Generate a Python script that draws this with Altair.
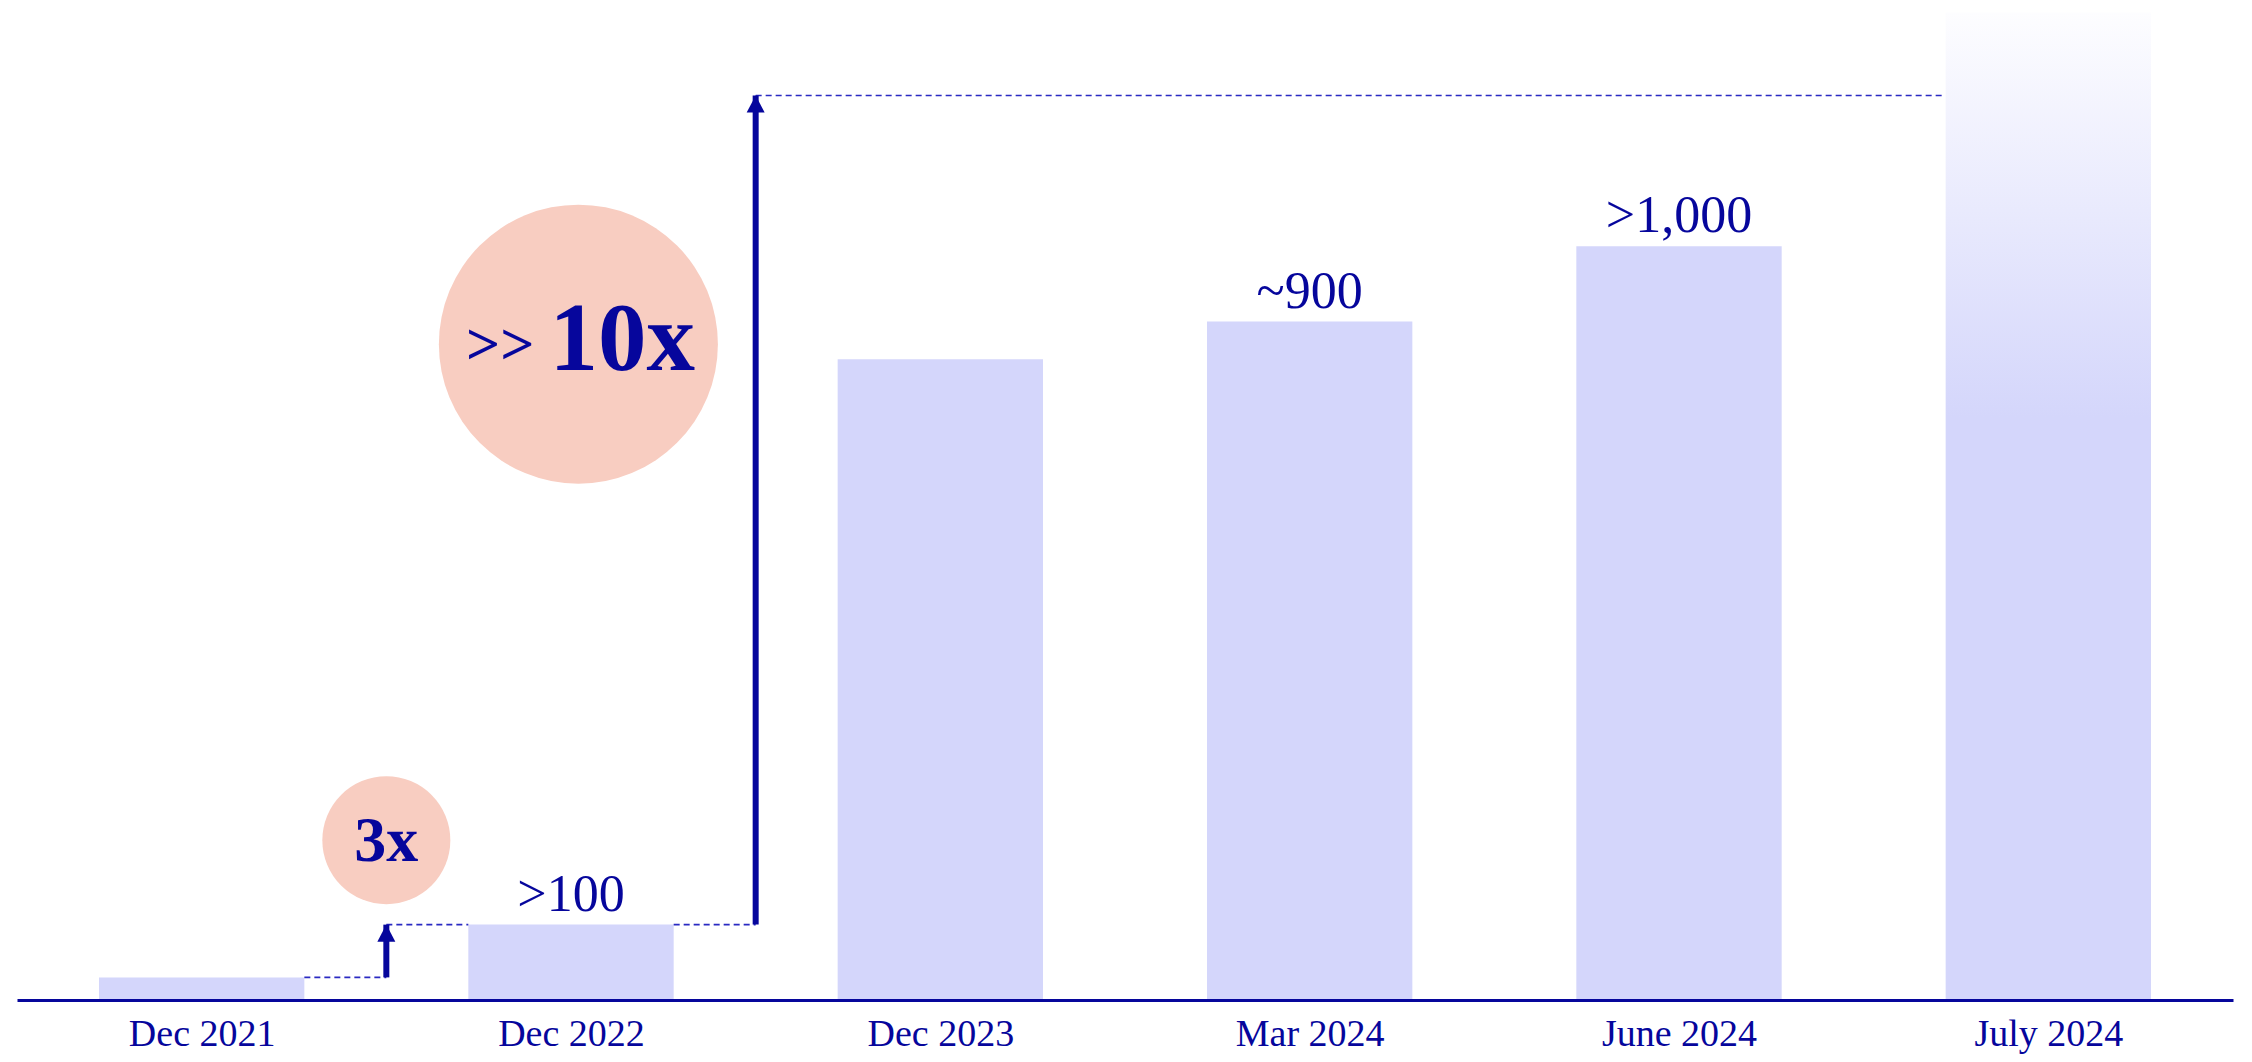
import json
import altair as alt
import pandas as pd

# ---------------- data ----------------
categories = ["Dec 2021", "Dec 2022", "Dec 2023", "Mar 2024", "June 2024", "July 2024"]
values = [30, 100, 850, 900, 1000, 1310]
value_labels = ["", ">100", "", "~900", ">1,000", ""]
faded = [False, False, False, False, False, True]

growth_multiple = ["3x", "10x"]
growth_prefix = ["", ">>"]
growth_from_idx = [0, 1]          # category the growth starts from
growth_to_idx = [1, 5]            # category the growth reaches
growth_start = [30, 100]          # value at start
growth_end = [100, 1200]          # value reached
growth_arrow_at = [0.5, 1.5]      # arrow placed between categories (index units)
bubble_x = [0.5, 1.02]
bubble_y = [212, 870]

# ---------------- styles ----------------
NAVY = "#06069c"
DASH = "#2a2ac2"
BAR = "#d4d6fb"
SALMON = "#f8cdc1"
FONT = "Liberation Serif"
HALF = 0.278
BUBBLE_DIAM = [128, 279]

xscale = alt.Scale(domain=[-0.5, len(categories) - 0.5], nice=False, zero=False)
yscale = alt.Scale(domain=[0, 1316], nice=False)

xaxis = alt.Axis(
    values=list(range(len(categories))),
    labelExpr=f"{json.dumps(categories)}[datum.value]",
    ticks=False, grid=False, domain=True, domainColor=NAVY, domainWidth=3,
    labelFont=FONT, labelFontSize=38, labelColor=NAVY, labelPadding=15,
    labelFlush=False, labelOverlap=False, title=None, zindex=1,
)

bars = pd.DataFrame({"idx": list(range(len(categories))), "category": categories,
                     "value": values, "label": value_labels, "faded": faded})

base = alt.Chart(bars).transform_calculate(
    x1=f"datum.idx - {HALF}", x2=f"datum.idx + {HALF}"
)

solid = base.transform_filter("!datum.faded").mark_bar(color=BAR).encode(
    x=alt.X("x1:Q", scale=xscale, axis=xaxis),
    x2="x2:Q",
    y=alt.Y("value:Q", scale=yscale, axis=None),
    y2=alt.datum(0),
)

grad = alt.LinearGradient(
    gradient="linear",
    stops=[alt.GradientStop(color="#fdfdff", offset=0),
           alt.GradientStop(color=BAR, offset=0.41),
           alt.GradientStop(color=BAR, offset=1)],
    x1=0, x2=0, y1=0, y2=1,
)
fade = base.transform_filter("datum.faded").mark_bar(color=grad).encode(
    x=alt.X("x1:Q", scale=xscale, axis=xaxis), x2="x2:Q",
    y=alt.Y("value:Q", scale=yscale, axis=None),
    y2=alt.datum(0),
)

labels = alt.Chart(bars).mark_text(
    font=FONT, fontSize=52, color=NAVY, baseline="alphabetic", dy=-14
).encode(x=alt.X("idx:Q", scale=xscale), y=alt.Y("value:Q", scale=yscale), text="label:N")

# dashed connectors
seg_x, seg_x2, seg_y = [], [], []
for fi, ti, s, e, a in zip(growth_from_idx, growth_to_idx, growth_start, growth_end, growth_arrow_at):
    seg_x += [fi + HALF, a]
    seg_x2 += [a, ti - HALF]
    seg_y += [s, e]
dashes = pd.DataFrame({"x": seg_x, "x2": seg_x2, "y": seg_y})
dash_layer = alt.Chart(dashes).mark_rule(color=DASH, strokeWidth=1.6, strokeDash=[6, 4]).encode(
    x=alt.X("x:Q", scale=xscale), x2="x2:Q", y=alt.Y("y:Q", scale=yscale)
)

growth = pd.DataFrame({"ax": growth_arrow_at, "start": growth_start, "end": growth_end,
                       "bx": bubble_x, "by": bubble_y, "mult": growth_multiple,
                       "prefix": growth_prefix, "diam2": [d * d for d in BUBBLE_DIAM]})

shafts = alt.Chart(growth).mark_rule(color=NAVY, strokeWidth=6).encode(
    x=alt.X("ax:Q", scale=xscale), y=alt.Y("start:Q", scale=yscale), y2="end:Q"
)
heads = alt.Chart(growth).mark_point(
    shape="M0,0L1,1.9L-1,1.9Z", size=324, filled=True, color=NAVY, opacity=1, strokeWidth=0
).encode(x=alt.X("ax:Q", scale=xscale), y=alt.Y("end:Q", scale=yscale))

bubbles = alt.Chart(growth).mark_point(shape="circle", filled=True, color=SALMON, opacity=1, strokeWidth=0).encode(
    x=alt.X("bx:Q", scale=xscale), y=alt.Y("by:Q", scale=yscale),
    size=alt.Size("diam2:Q", scale=None, legend=None),
)

g_small = alt.Chart(growth).transform_filter("datum.prefix == ''")
g_big = alt.Chart(growth).transform_filter("datum.prefix != ''")

t3 = g_small.mark_text(font=FONT, fontWeight="bold", fontSize=64, color=NAVY,
                       baseline="alphabetic", dy=21).encode(
    x=alt.X("bx:Q", scale=xscale), y=alt.Y("by:Q", scale=yscale), text="mult:N")
t10 = g_big.mark_text(font=FONT, fontWeight="bold", fontSize=97, color=NAVY,
                      baseline="alphabetic", align="left", dx=-29, dy=26).encode(
    x=alt.X("bx:Q", scale=xscale), y=alt.Y("by:Q", scale=yscale), text="mult:N")
tpre = g_big.mark_text(font=FONT, fontWeight="bold", fontSize=60, color=NAVY,
                       baseline="alphabetic", align="right", dx=-44, dy=20).encode(
    x=alt.X("bx:Q", scale=xscale), y=alt.Y("by:Q", scale=yscale), text="prefix:N")

chart = alt.layer(
    solid, fade, labels, dash_layer, shafts, heads, bubbles, t3, t10, tpre
).properties(
    width=2216, height=992,
    autosize=alt.AutoSizeParams(type="none"),
    padding={"left": 9, "top": 0, "right": 10, "bottom": 54},
    background="white",
).configure_view(stroke=None)

chart.save("out.html", embed_options={"renderer": "svg", "actions": False})
